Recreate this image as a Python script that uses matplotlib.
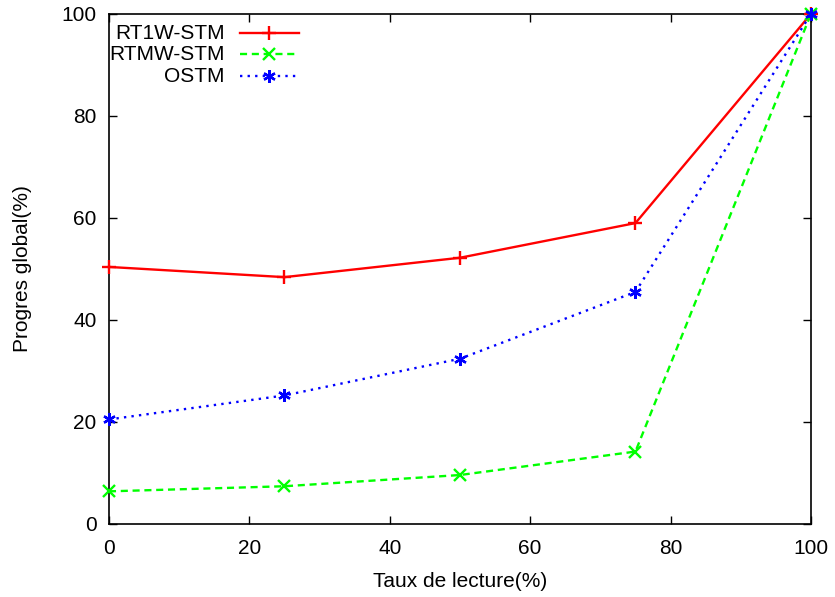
import matplotlib.pyplot as plt

plt.rcParams['font.family'] = ['Liberation Sans', 'DejaVu Sans']

taux = [0, 25, 50, 75, 100]
rt1w = [50.4, 48.4, 52.2, 59.0, 100]
rtmw = [6.4, 7.4, 9.6, 14.2, 100]
ostm = [20.5, 25.2, 32.4, 45.5, 100]

noms = ['RT1W-STM', 'RTMW-STM', 'OSTM']
series = [rt1w, rtmw, ostm]
styles = [
    dict(color='#ff0000', ls='-', marker='+', ms=10),
    dict(color='#00ff00', ls=(0, (3, 2)), marker='x', ms=8),
    dict(color='#0000ff', ls=(0, (1, 2.2)), marker=(6, 2, 0), ms=9),
]

fig = plt.figure(figsize=(8.35, 5.97), dpi=100)
ax = fig.add_axes([0.1305, 0.1223, 0.8407, 0.8543])

for vals, st in zip(series, styles):
    ax.plot(taux, vals, lw=1.7, mew=1.7, clip_on=False, zorder=3, **st)

ax.set_xlim(0, 100)
ax.set_ylim(0, 100)
ax.set_xticks(range(0, 101, 20))
ax.set_yticks(range(0, 101, 20))
ax.tick_params(direction='in', top=True, right=True, length=6, width=1, labelsize=15, pad=9)
ax.tick_params(axis='x', pad=11)
for s in ax.spines.values():
    s.set_linewidth(1.2)
ax.set_xlabel('Taux de lecture(%)', fontsize=15, labelpad=10)
ax.set_ylabel('Progres global(%)', fontsize=15, labelpad=21)

# legende a la gnuplot: texte aligne a droite, echantillon a droite
ys = [0.962, 0.921, 0.878]
for nom, st, y in zip(noms, styles, ys):
    ax.text(0.165, y, nom, transform=ax.transAxes, ha='right', va='center', fontsize=15)
    ax.plot([0.187, 0.270], [y, y], transform=ax.transAxes, lw=1.7, color=st['color'], ls=st['ls'], clip_on=False)
    ax.plot([0.2285], [y], transform=ax.transAxes, color=st['color'], marker=st['marker'], ms=st['ms'], mew=1.7, clip_on=False)

fig.savefig('out.png', dpi=100)
